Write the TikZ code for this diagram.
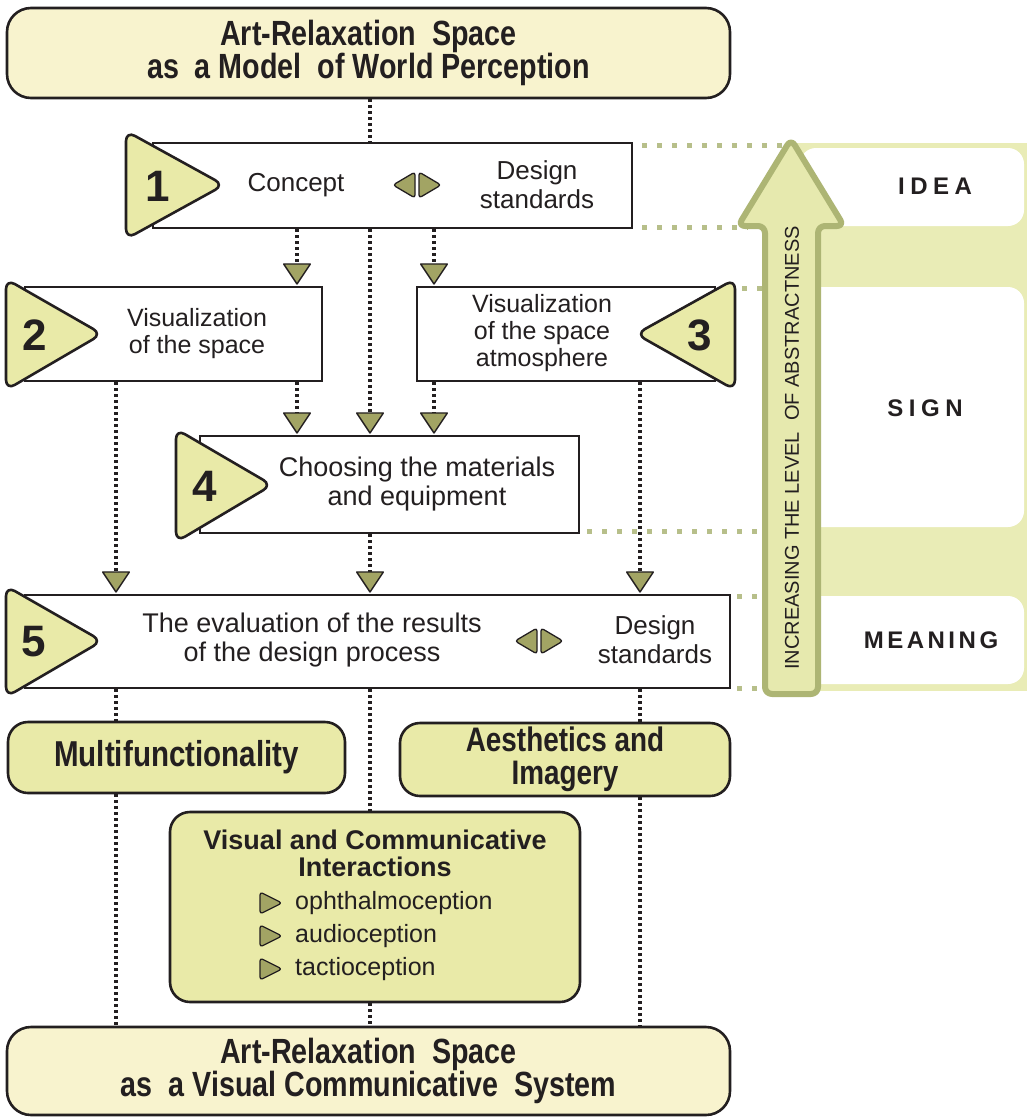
\documentclass[tikz,border=0pt]{standalone}
\usepackage{fontspec}
\setmainfont{Liberation Sans}
\newfontfamily\narrowfont[FakeStretch=0.82]{Liberation Sans}
\usetikzlibrary{arrows.meta,calc}

\definecolor{ink}{HTML}{231F20}
\definecolor{cream}{HTML}{F8F3CE}
\definecolor{lime}{HTML}{E9EAA8}
\definecolor{olive}{HTML}{A2A464}
\definecolor{bandgreen}{HTML}{E9ECB6}
\definecolor{arrowfill}{HTML}{E6E9AE}
\definecolor{arrowedge}{HTML}{ADB574}
\definecolor{dotgreen}{HTML}{B7BF8A}

\tikzset{
  flowbox/.style={draw=ink, line width=2.6pt, fill=white, inner sep=0pt},
  capbox/.style={draw=ink, line width=2.6pt, fill=cream, rounded corners=24pt,
    inner sep=0pt, align=center, text=ink,
    font=\narrowfont\bfseries\fontsize{35}{32}\selectfont},
  tagbox/.style={draw=ink, line width=2.6pt, fill=lime, rounded corners=20pt,
    inner sep=0pt, align=center, text=ink,
    font=\narrowfont\bfseries\fontsize{34}{33}\selectfont},
  txt/.style={align=center, inner sep=0pt, text=ink,
    font=\fontsize{26}{29}\selectfont},
  smalltxt/.style={align=center, inner sep=0pt, text=ink,
    font=\fontsize{25}{27}\selectfont},
  num/.style={inner sep=0pt, text=ink, font=\bfseries\fontsize{44}{44}\selectfont},
  badge/.style={draw=ink, line width=2.6pt, fill=lime, rounded corners=10pt, line join=round},
  icon/.style={draw=ink, line width=1.3pt, fill=olive, rounded corners=3pt, line join=round},
  link/.style={draw=ink, line width=3.2pt, dash pattern=on 3pt off 3pt},
  flow/.style={link, shorten >=1pt,
    -{Triangle[width=29pt,length=22pt,fill=olive,line width=1.4pt,round]}},
  greendots/.style={draw=dotgreen, line width=5pt, dash pattern=on 5pt off 10pt},
  level/.style={inner sep=0pt, text=ink, font=\bfseries\fontsize{24}{24}\selectfont},
}

\begin{document}
\begin{tikzpicture}[x=1pt,y=-1pt]
\useasboundingbox (0,0) rectangle (1027,1119);

% ---------- abstraction scale on the right ----------
\fill[bandgreen] (793,143) rectangle (1027,691);
\fill[white, rounded corners=16pt] (800,148) rectangle (1024,226);
\fill[white, rounded corners=16pt] (800,287) rectangle (1024,527);
\fill[white, rounded corners=16pt] (800,596) rectangle (1024,684);
\node[level] (idea) at (935,186) {I\kern5.5pt D\kern5.5pt E\kern5.5pt A};
\node[level] (sign) at (925,408) {S\kern5.5pt I\kern5.5pt G\kern5.5pt N};
\node[level] (meaning) at (931,640) {M\kern3.5pt E\kern3.5pt A\kern3.5pt N\kern3.5pt I\kern3.5pt N\kern3.5pt G};

\draw[greendots] (642,145) -- (785,145);
\draw[greendots] (642,227) -- (748,227);
\draw[greendots] (742,288) -- (770,288);
\draw[greendots] (587,531) -- (770,531);
\draw[greendots] (737,596) -- (770,596);
\draw[greendots] (737,688) -- (770,688);

\draw[line width=6pt, draw=arrowedge, fill=arrowfill, rounded corners=7pt, line join=round]
  (765,694) -- (765,226) -- (738,226) -- (791,139) -- (844,226) -- (818,226) -- (818,694) -- cycle;
\node[rotate=90, inner sep=0pt, text=ink, font=\fontsize{20}{20}\selectfont] (abstr) at (792,448)
  {INCREASING THE LEVEL\ \ OF ABSTRACTNESS};

% ---------- top and bottom frames ----------
\node[capbox, minimum width=723pt, minimum height=90pt] (top) at (368.5,53)
  {Art-Relaxation\ \ Space\\as\ \ a Model\ \ of World Perception};
\node[capbox, minimum width=723pt, minimum height=88pt] (bottom) at (368.5,1071)
  {Art-Relaxation\ \ Space\\as\ \ a Visual Communicative\ \ System};

% ---------- process boxes ----------
\node[flowbox, minimum width=479pt, minimum height=85pt] (b1) at (392.5,185.5) {};
\node[flowbox, minimum width=297pt, minimum height=94pt] (b2) at (173.5,334) {};
\node[flowbox, minimum width=298pt, minimum height=94pt] (b3) at (566,334) {};
\node[flowbox, minimum width=379pt, minimum height=97pt] (b4) at (389.5,484.5) {};
\node[flowbox, minimum width=705pt, minimum height=93pt] (b5) at (377.5,641.5) {};

\draw[badge] (126,131) -- (224,185) -- (126,239) -- cycle;
\draw[badge] (6,279) -- (102,334) -- (6,390) -- cycle;
\draw[badge] (735,279) -- (636,334) -- (735,390) -- cycle;
\draw[badge] (176,429) -- (272,485) -- (176,542) -- cycle;
\draw[badge] (6,586) -- (102,641) -- (6,697) -- cycle;

\node[num] (n1) at (158,186) {1};
\node[num] (n2) at (35,335) {2};
\node[num] (n3) at (700,335) {3};
\node[num] (n4) at (205,486) {4};
\node[num] (n5) at (34,642) {5};

\node[txt] (t1a) at (296,185) {Concept};
\node[txt] (t1b) at (537,185) {Design\\standards};
\draw[icon] (415,172) -- (393,185) -- (415,198) -- cycle;
\draw[icon] (419,172) -- (441,185) -- (419,198) -- cycle;

\node[smalltxt] (t2) at (197,334) {Visualization\\of the space};
\node[smalltxt] (t3) at (542,333) {Visualization\\of the space\\atmosphere};
\node[txt, font=\fontsize{27}{29}\selectfont] (t4) at (417,484) {Choosing the materials\\and equipment};

\node[txt, font=\fontsize{27}{29}\selectfont] (t5a) at (312,640) {The evaluation of the results\\of the design process};
\node[txt] (t5b) at (655,640) {Design\\standards};
\draw[icon] (537,628) -- (515,641) -- (537,654) -- cycle;
\draw[icon] (541,628) -- (563,641) -- (541,654) -- cycle;

% ---------- outcome boxes ----------
\node[tagbox, minimum width=337pt, minimum height=71pt,
  font=\narrowfont\bfseries\fontsize{36}{33}\selectfont] (multi) at (176.5,757.5) {Multifunctionality};
\node[tagbox, minimum width=330pt, minimum height=73pt] (aest) at (565,759.5) {Aesthetics and\\Imagery};
\node[draw=ink, line width=2.6pt, fill=lime, rounded corners=20pt,
  minimum width=410pt, minimum height=190pt] (vci) at (375,907) {};
\node[txt, font=\bfseries\fontsize{27}{27}\selectfont] (vcititle) at (375,853)
  {Visual and Communicative\\Interactions};
\draw[icon] (260,892) -- (282,903) -- (260,914) -- cycle;
\draw[icon] (260,925) -- (282,936) -- (260,947) -- cycle;
\draw[icon] (260,958) -- (282,969) -- (260,980) -- cycle;
\node[smalltxt, anchor=west] (s1) at (295,903) {ophthalmoception};
\node[smalltxt, anchor=west] (s2) at (295,936) {audioception};
\node[smalltxt, anchor=west] (s3) at (295,969) {tactioception};

% ---------- connectors ----------
\coordinate (cL) at (116,0);
\coordinate (c2) at (297,0);
\coordinate (cM) at (370,0);
\coordinate (c3) at (434,0);
\coordinate (cR) at (640,0);

\draw[link] (top.south -| cM) -- (b1.north -| cM);
\draw[flow] (b1.south -| c2) -- (b2.north -| c2);
\draw[flow] (b1.south -| c3) -- (b3.north -| c3);
\draw[flow] (b1.south -| cM) -- (b4.north -| cM);
\draw[flow] (b2.south -| c2) -- (b4.north -| c2);
\draw[flow] (b3.south -| c3) -- (b4.north -| c3);
\draw[flow] (b2.south -| cL) -- (b5.north -| cL);
\draw[flow] (b4.south -| cM) -- (b5.north -| cM);
\draw[flow] (b3.south -| cR) -- (b5.north -| cR);
\draw[link] (b5.south -| cL) -- (multi.north -| cL);
\draw[link] (multi.south -| cL) -- (bottom.north -| cL);
\draw[link] (b5.south -| cM) -- (vci.north -| cM);
\draw[link] (vci.south -| cM) -- (bottom.north -| cM);
\draw[link] (b5.south -| cR) -- (aest.north -| cR);
\draw[link] (aest.south -| cR) -- (bottom.north -| cR);
\end{tikzpicture}
\end{document}
